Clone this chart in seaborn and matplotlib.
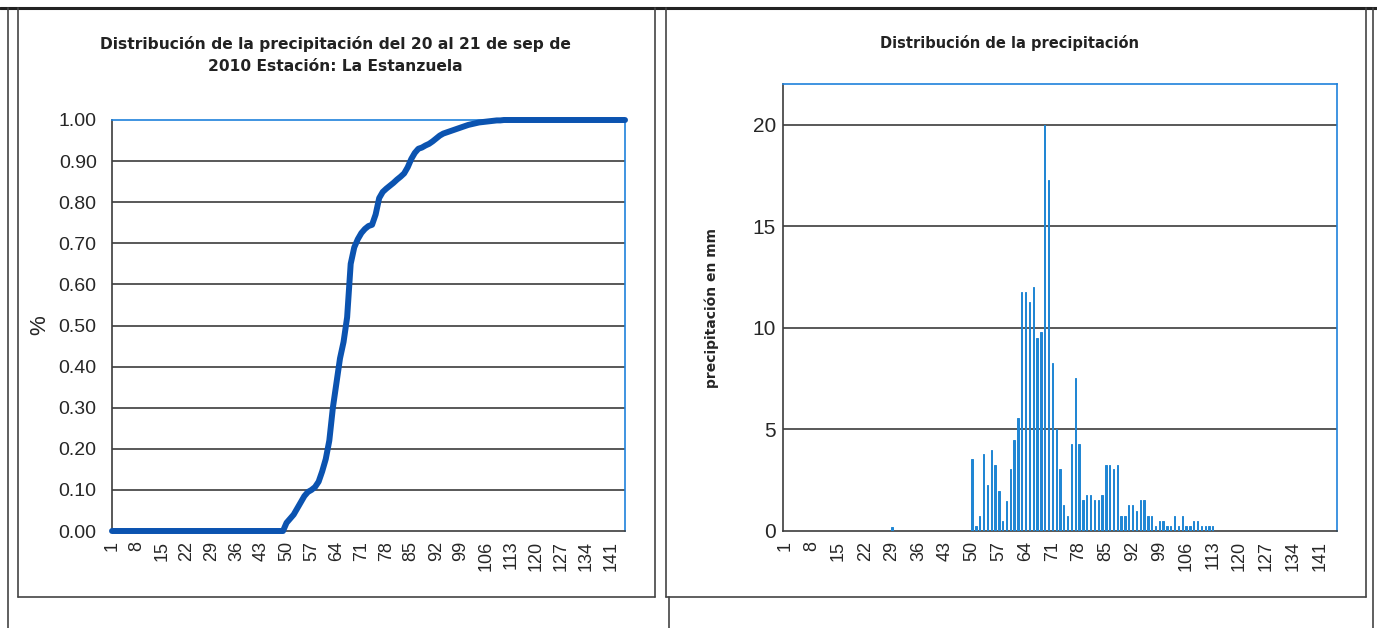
import numpy as np
import pandas as pd
import matplotlib
matplotlib.use("Agg")
import matplotlib.pyplot as plt
import seaborn as sns
from matplotlib.lines import Line2D

# ---------------- data ----------------
n_intervals = 145
intervals = list(range(1, n_intervals + 1))
tick_labels = list(range(1, 142, 7))

# cumulative fraction (index 1..145)
cum_zero_part = [0.0] * 49                      # intervals 1..49
cum_rise = [0.02, 0.03, 0.04, 0.055, 0.07, 0.085, 0.095, 0.10, 0.107, 0.12,   # 50-59
            0.145, 0.175, 0.22, 0.30, 0.36, 0.42, 0.46, 0.52, 0.65, 0.69,     # 60-69
            0.71, 0.725, 0.735, 0.742, 0.745, 0.77, 0.81, 0.825, 0.833, 0.84,  # 70-79
            0.847, 0.855, 0.862, 0.87, 0.885, 0.905, 0.92, 0.93, 0.933, 0.938, # 80-89
            0.942, 0.948, 0.955, 0.962, 0.967, 0.97, 0.973, 0.976, 0.979, 0.982,  # 90-99
            0.985, 0.988, 0.99, 0.992, 0.994, 0.995, 0.996, 0.997, 0.998, 0.999,  # 100-109
            0.999]                                                               # 110
cum_one_part = [1.0] * (n_intervals - 49 - len(cum_rise))
cumulative = cum_zero_part + cum_rise + cum_one_part

# precipitation per interval (mm)
precip_early = [0.0] * 28 + [0.2] + [0.0] * 20          # intervals 1..49
precip_storm = [3.52, 0.23, 0.72, 3.77, 2.25, 4.0, 3.24, 1.97, 0.48, 1.48,    # 50-59
                3.03, 4.5, 5.54, 11.76, 11.76, 11.27, 11.99, 9.52, 9.77, 20.0,  # 60-69
                17.27, 8.29, 5.0, 3.03, 1.27, 0.74, 4.28, 7.53, 4.28, 1.51,     # 70-79
                1.76, 1.76, 1.51, 1.51, 1.76, 3.24, 3.24, 3.03, 3.24, 0.74,     # 80-89
                0.74, 1.27, 1.27, 0.99, 1.51, 1.51, 0.74, 0.74, 0.23, 0.48,     # 90-99
                0.48, 0.23, 0.23, 0.74, 0.23, 0.74, 0.23, 0.23, 0.48, 0.48,     # 100-109
                0.23, 0.23, 0.23, 0.23]                                         # 110-113
precip_late = [0.0] * (n_intervals - len(precip_early) - len(precip_storm))
precipitation = precip_early + precip_storm + precip_late

left_title = "Distribución de la precipitación del 20 al 21 de sep de\n2010 Estación: La Estanzuela"
right_title = "Distribución de la precipitación"
left_ylabel = "%"
right_ylabel = "precipitación en mm"

df_cum = pd.DataFrame({"intervalo": intervals, "acumulado": cumulative})
df_pp = pd.DataFrame({"intervalo": intervals, "pp": precipitation})

# ---------------- style ----------------
sns.set_theme(style="white")
plt.rcParams["font.family"] = ["Liberation Sans", "DejaVu Sans"]

W, H = 1377, 628
fig = plt.figure(figsize=(W / 100, H / 100), dpi=100)
fig.patch.set_facecolor("white")

def fx(px):
    return px / W

def fy(py):
    return 1 - py / H

BLUE_FRAME = "#1f82dc"
GRID = "#3c3c3c"
LINE_BLUE = "#0b53b0"
BAR_BLUE = "#1f86d4"

# ---------------- left chart ----------------
axL = fig.add_axes([fx(112), fy(531), fx(625 - 112), (531 - 120) / H])
sns.lineplot(data=df_cum, x="intervalo", y="acumulado", ax=axL, color=LINE_BLUE,
             linewidth=4.3, clip_on=False, zorder=5)
axL.set_xlim(1, n_intervals)
axL.set_ylim(0, 1)
axL.set_yticks(np.round(np.arange(0, 1.01, 0.1), 2))
axL.set_yticklabels([f"{v:.2f}" for v in np.arange(0, 1.01, 0.1)], fontsize=14)
axL.set_xticks(tick_labels)
axL.set_xticklabels([str(t) for t in tick_labels], rotation=90, fontsize=13)
axL.set_xlabel("")
axL.set_ylabel(left_ylabel, fontsize=16, labelpad=6)
for v in np.arange(0.1, 0.95, 0.1):
    axL.axhline(v, color=GRID, linewidth=1.2, zorder=1)
axL.spines["top"].set_color(BLUE_FRAME)
axL.spines["right"].set_color(BLUE_FRAME)
axL.spines["left"].set_color(GRID)
axL.spines["bottom"].set_color(GRID)
for s in axL.spines.values():
    s.set_linewidth(1.2)
axL.tick_params(axis="y", length=4, width=1, color=GRID, pad=7)
axL.tick_params(axis="x", length=0, pad=7)

fig.text(fx(335), fy(55), left_title, ha="center", va="center", fontsize=11.2,
         fontweight="bold", color="#222222", family="DejaVu Sans", linespacing=1.55)

# ---------------- right chart ----------------
axR = fig.add_axes([fx(783), fy(531), fx(1337 - 783), (531 - 84) / H])
sns.barplot(data=df_pp, x="intervalo", y="pp", ax=axR, native_scale=True,
            color=BAR_BLUE, width=0.35, saturation=1, errorbar=None, zorder=3,
            edgecolor=BAR_BLUE, linewidth=0.7)
axR.set_xlim(0.5, n_intervals + 0.5)
axR.set_ylim(0, 22)
axR.set_yticks([0, 5, 10, 15, 20])
axR.set_yticklabels(["0", "5", "10", "15", "20"], fontsize=15)
axR.set_xticks(tick_labels)
axR.set_xticklabels([str(t) for t in tick_labels], rotation=90, fontsize=13)
axR.set_xlabel("")
axR.set_ylabel(right_ylabel, fontsize=10, fontweight="bold", family="DejaVu Sans",
               labelpad=24)
for v in [5, 10, 15, 20]:
    axR.axhline(v, color=GRID, linewidth=1.2, zorder=1)
axR.spines["top"].set_color(BLUE_FRAME)
axR.spines["right"].set_color(BLUE_FRAME)
axR.spines["left"].set_color(GRID)
axR.spines["bottom"].set_color(GRID)
for s in axR.spines.values():
    s.set_linewidth(1.2)
axR.tick_params(axis="y", length=4, width=1, color=GRID, pad=1)
axR.tick_params(axis="x", length=0, pad=7)

fig.text(fx(1010), fy(43), right_title, ha="center", va="center", fontsize=10.5,
         fontweight="bold", color="#222222", family="DejaVu Sans")

# ---------------- page frames ----------------
def fline(x0, y0, x1, y1, lw=1.2, color="#444444"):
    fig.add_artist(Line2D([fx(x0), fx(x1)], [fy(y0), fy(y1)], transform=fig.transFigure,
                          color=color, linewidth=lw))

fline(0, 8, W, 8, lw=2.2, color="#222222")
fline(8, 8, 8, H)
fline(1373, 8, 1373, H)
# left box
fline(18, 8, 18, 597)
fline(18, 597, 655, 597)
fline(655, 8, 655, 597)
# right box
fline(666, 8, 666, 597)
fline(666, 597, 1366, 597)
fline(1366, 8, 1366, 597)
fline(669, 597, 669, H)

fig.savefig("out.png", dpi=100, facecolor="white")
